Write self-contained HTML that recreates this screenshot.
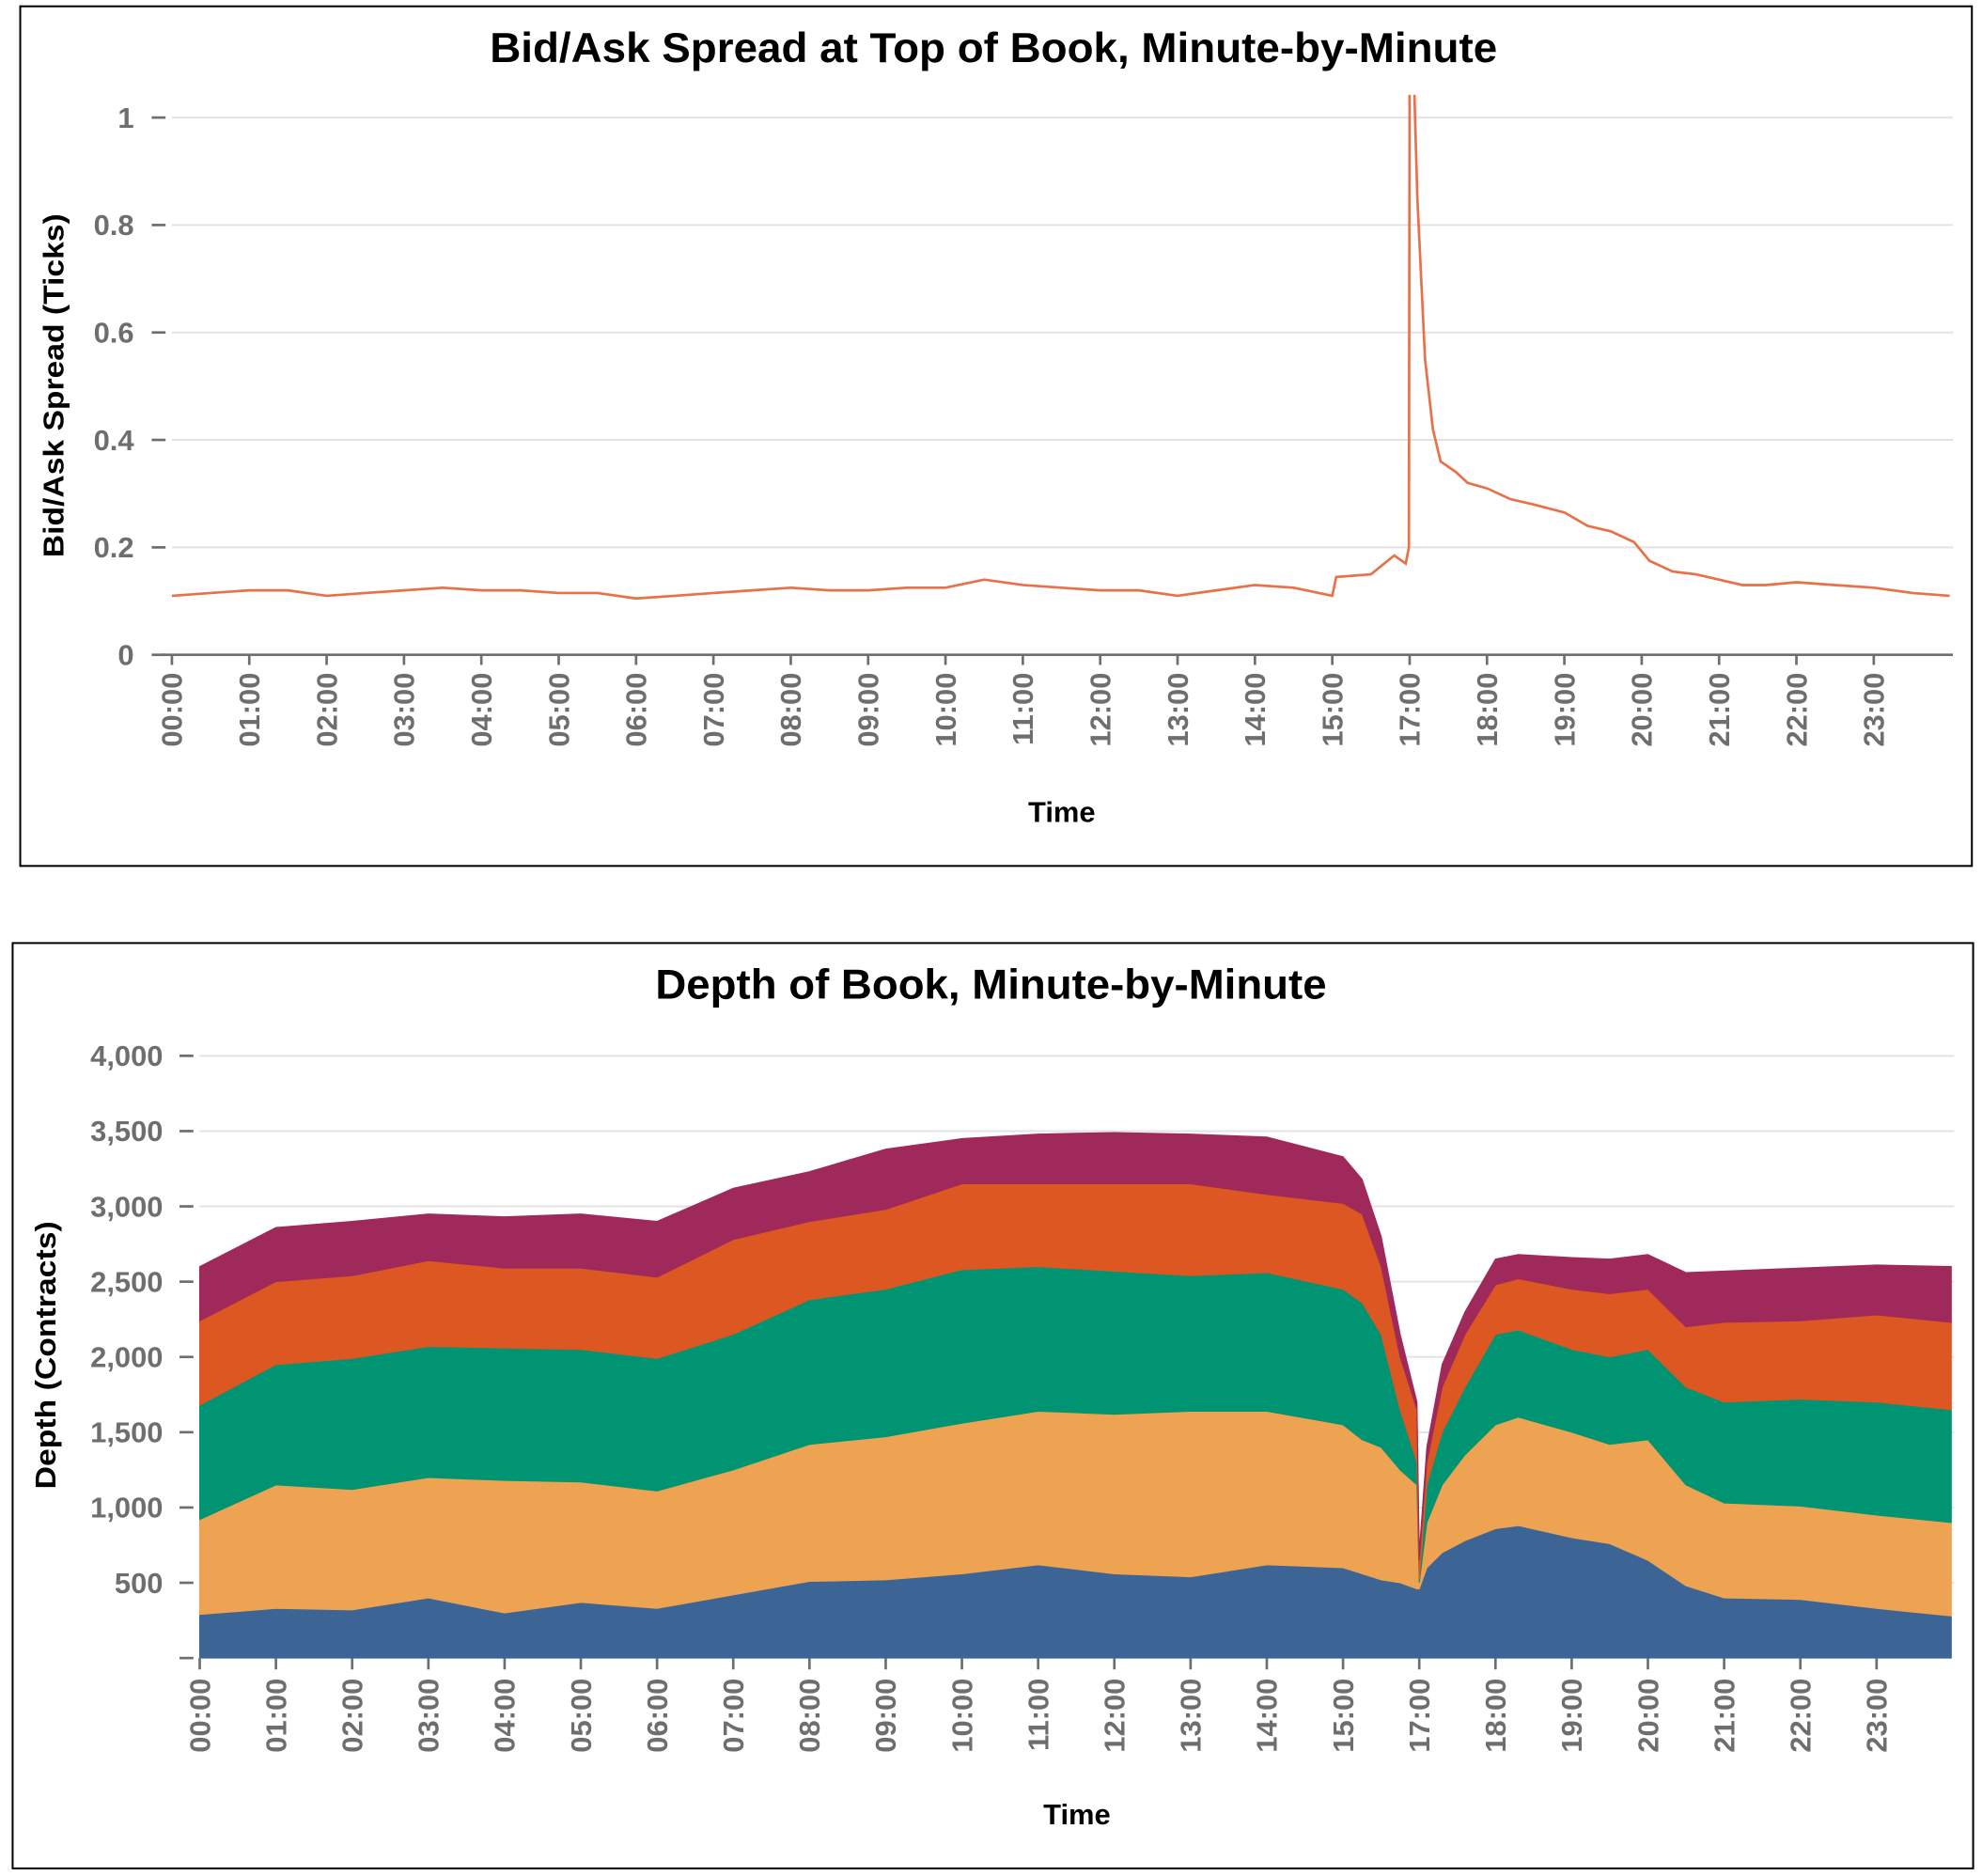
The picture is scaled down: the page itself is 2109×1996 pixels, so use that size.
<!DOCTYPE html>
<html><head><meta charset="utf-8">
<style>
html,body{margin:0;padding:0;background:#fff;}
svg{display:block;}
text{font-family:"Liberation Sans",Arial,sans-serif;}
.tick{fill:#6e6e6e;font-weight:bold;font-size:23px;}
.ttl{fill:#000;font-weight:bold;font-size:33px;}
.axt{fill:#000;font-weight:bold;font-size:23px;}
</style></head>
<body>
<svg id="chart" width="2109" height="1996" viewBox="0 0 1568 1484" xmlns="http://www.w3.org/2000/svg">
<defs>
<clipPath id="clipTop"><rect x="120" y="75" width="1430" height="450"/></clipPath>
</defs>
<rect x="16" y="5" width="1544" height="680" fill="#fff" stroke="#000" stroke-width="1.5"/>
<rect x="10" y="746" width="1551" height="732" fill="#fff" stroke="#000" stroke-width="1.5"/>
<text class="ttl" x="786" y="49" text-anchor="middle" textLength="797" lengthAdjust="spacingAndGlyphs">Bid/Ask Spread at Top of Book, Minute-by-Minute</text>
<text class="ttl" x="784" y="790" text-anchor="middle" textLength="531" lengthAdjust="spacingAndGlyphs">Depth of Book, Minute-by-Minute</text>
<text class="axt" x="840" y="650" text-anchor="middle">Time</text>
<text class="axt" x="852" y="1443" text-anchor="middle">Time</text>
<text class="axt" x="0" y="0" text-anchor="middle" textLength="272" lengthAdjust="spacingAndGlyphs" transform="translate(50,305) rotate(-90)">Bid/Ask Spread (Ticks)</text>
<text class="axt" x="0" y="0" text-anchor="middle" textLength="212" lengthAdjust="spacingAndGlyphs" transform="translate(44,1072) rotate(-90)">Depth (Contracts)</text>
<g id="topG"></g>
<g id="botG"></g>
</svg>
<script>
// Session has no data between 16:00 and 17:00; axis skips that hour.
const hourLabels=["00:00","01:00","02:00","03:00","04:00","05:00","06:00","07:00","08:00","09:00","10:00","11:00","12:00","13:00","14:00","15:00","17:00","18:00","19:00","20:00","21:00","22:00","23:00"];
const hourValues=[0,1,2,3,4,5,6,7,8,9,10,11,12,13,14,15,17,18,19,20,21,22,23];
const spreadTicks=[0,0.2,0.4,0.6,0.8,1];
const spreadTickLabels=["0","0.2","0.4","0.6","0.8","1"];
const spreadTimes=[0,0.5,1,1.5,2,2.5,3,3.5,4,4.5,5,5.5,6,6.5,7,7.5,8,8.5,9,9.5,10,10.5,11,11.5,12,12.5,13,13.5,14,14.5,15,15.05,15.5,15.8,15.95,15.99,17.0,17.05,17.1,17.2,17.3,17.4,17.6,17.75,18,18.3,18.6,19,19.3,19.6,19.9,20.1,20.4,20.7,21,21.3,21.6,22,22.5,23,23.5,23.98];
const spreadValues=[0.11,0.115,0.12,0.12,0.11,0.115,0.12,0.125,0.12,0.12,0.115,0.115,0.105,0.11,0.115,0.12,0.125,0.12,0.12,0.125,0.125,0.14,0.13,0.125,0.12,0.12,0.11,0.12,0.13,0.125,0.11,0.145,0.15,0.185,0.17,0.2,1.1,1.1,0.85,0.55,0.42,0.36,0.34,0.32,0.31,0.29,0.28,0.265,0.24,0.23,0.21,0.175,0.155,0.15,0.14,0.13,0.13,0.135,0.13,0.125,0.115,0.11];

const depthTicks=[0,500,1000,1500,2000,2500,3000,3500,4000];
const depthTickLabels=["","500","1,000","1,500","2,000","2,500","3,000","3,500","4,000"];
const depthTimes=[0,1,2,3,4,5,6,7,8,9,10,11,12,13,14,15,15.25,15.5,15.75,15.97,17,17.1,17.3,17.6,18,18.3,19,19.5,20,20.5,21,22,23,23.98];
const depthLevel1=[290,330,320,400,300,370,330,420,510,520,560,620,560,540,620,600,560,520,500,460,460,600,700,780,860,880,800,760,650,480,400,390,330,280];
const depthLevel2=[630,820,800,800,880,800,780,830,910,950,1000,1020,1060,1100,1020,950,890,880,750,690,40,300,450,570,690,720,700,660,800,670,630,620,620,620];
const depthLevel3=[760,800,870,870,880,880,880,900,960,980,1020,960,950,900,920,900,910,750,400,150,20,250,350,450,600,580,550,580,600,650,670,710,750,750];
const depthLevel4=[560,550,550,570,530,540,540,630,520,530,570,550,580,610,520,570,590,450,350,350,130,150,300,350,330,340,400,420,400,400,530,520,580,580];
const depthLevel5=[360,360,360,310,340,360,370,340,330,400,300,330,340,330,380,310,230,200,150,50,50,100,150,150,170,160,210,230,230,360,340,350,330,370];
const depthColors=["#3c6595","#eea352","#009473","#dc5721","#a0295b"];
const depthNames=["level-1","level-2","level-3","level-4","level-5"];

const NS="http://www.w3.org/2000/svg";
function mk(tag,attrs,parent){const e=document.createElementNS(NS,tag);for(const k in attrs)e.setAttribute(k,attrs[k]);parent.appendChild(e);return e;}
const slot=h=>h>=17?h-1:Math.min(h,16);

const tx0=136,txStep=61.2,ty0=518,ty1=93;
const xTop=h=>tx0+txStep*slot(h);
const yTop=v=>ty0-(ty0-ty1)*v/1;
const topG=document.getElementById('topG');
spreadTicks.forEach((v,i)=>{
  const y=yTop(v);
  if(v>0){const g=mk('line',{x1:136,x2:1545,y1:y,y2:y,stroke:'#e3e3e3','stroke-width':1.5},topG);
  
  }
  const t=mk('line',{x1:120,x2:131,y1:y,y2:y,stroke:'#6e6e6e','stroke-width':2},topG);
  
  
  const l=mk('text',{x:106,y:y+8,'text-anchor':'end',class:'tick'},topG);
  l.textContent=spreadTickLabels[i];
  
  
});
const ax=mk('line',{x1:128,x2:1545,y1:ty0,y2:ty0,stroke:'#6e6e6e','stroke-width':2},topG);


hourLabels.forEach((s,i)=>{
  const x=xTop(hourValues[i]);
  const t=mk('line',{x1:x,x2:x,y1:ty0,y2:ty0+8,stroke:'#6e6e6e','stroke-width':2},topG);
  
  
  const l=mk('text',{x:0,y:0,'text-anchor':'end',class:'tick',transform:`translate(${x+8},${ty0+14}) rotate(-90)`},topG);
  l.textContent=s;
  
  
});
let d=spreadTimes.map((h,i)=>(i?'L':'M')+xTop(h).toFixed(1)+','+yTop(spreadValues[i]).toFixed(1)).join('');
const ln=mk('path',{d:d,fill:'none',stroke:'#e8714a','stroke-width':2,'clip-path':'url(#clipTop)'},topG);



const bx0=158,bxStep=60.3,by0=1311.6,byK=0.1191;
const xBot=h=>bx0+bxStep*slot(h);
const yBot=v=>by0-byK*v;
const botG=document.getElementById('botG');
depthTicks.forEach((v,i)=>{
  const y=yBot(v);
  if(v>0){const g=mk('line',{x1:158,x2:1546,y1:y,y2:y,stroke:'#e3e3e3','stroke-width':1.5},botG);
  
  }
  const t=mk('line',{x1:142,x2:153,y1:y,y2:y,stroke:'#6e6e6e','stroke-width':2},botG);
  
  
  const l=mk('text',{x:129,y:y+8,'text-anchor':'end',class:'tick'},botG);
  l.textContent=depthTickLabels[i];
  
  
});
const layers=[depthLevel1,depthLevel2,depthLevel3,depthLevel4,depthLevel5];
let base=depthTimes.map(()=>0);
layers.forEach((arr,k)=>{
  const topv=base.map((b,i)=>b+arr[i]);
  let p=depthTimes.map((h,i)=>(i?'L':'M')+xBot(h).toFixed(1)+','+yBot(topv[i]).toFixed(1)).join('');
  for(let i=depthTimes.length-1;i>=0;i--)p+='L'+xBot(depthTimes[i]).toFixed(1)+','+yBot(base[i]).toFixed(1);
  p+='Z';
  const a=mk('path',{d:p,fill:depthColors[k],stroke:depthColors[k],'stroke-width':0.8},botG);
  
  
  base=topv;
});
hourLabels.forEach((s,i)=>{
  const x=xBot(hourValues[i]);
  const t=mk('line',{x1:x,x2:x,y1:by0,y2:by0+9,stroke:'#6e6e6e','stroke-width':2},botG);
  
  
  const l=mk('text',{x:0,y:0,'text-anchor':'end',class:'tick',transform:`translate(${x+8},${by0+16}) rotate(-90)`},botG);
  l.textContent=s;
  
  
});
</script>
</body></html>
